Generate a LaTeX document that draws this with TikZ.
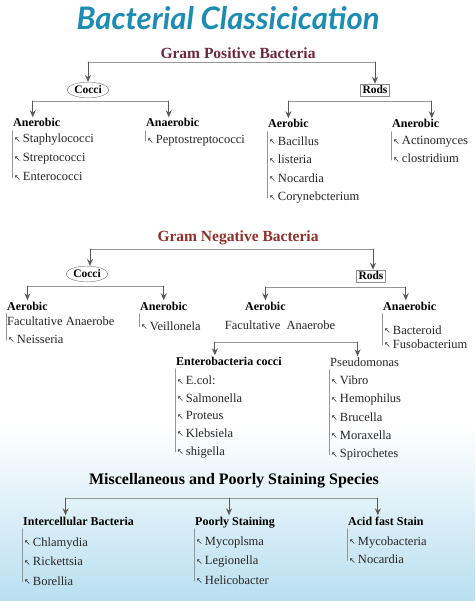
\documentclass[tikz,border=0pt]{standalone}
\usepackage{fontspec}
\setmainfont{Liberation Serif}
\newfontfamily\titlefont{Lato}
\newfontfamily\symfont{DejaVu Sans}
\usetikzlibrary{arrows.meta,calc,positioning,shapes.geometric}
\definecolor{titleteal}{RGB}{30,140,178}
\definecolor{posmaroon}{RGB}{110,40,65}
\definecolor{negmaroon}{RGB}{140,50,45}
\definecolor{skyblue}{RGB}{185,223,240}
\definecolor{linegray}{RGB}{150,150,150}
\newcommand{\bact}[1]{{\symfont\fontsize{8}{8}\selectfont\raisebox{0.5pt}{↖}}\,#1}

\begin{document}
\begin{tikzpicture}[x=1pt,y=-1pt,line cap=round,line join=round,
 heading/.style={font=\fontsize{15.5}{15.5}\selectfont\bfseries,inner sep=1pt},
 group/.style={font=\fontsize{12}{12}\selectfont\bfseries,anchor=west,
  inner sep=1pt,text height=8.5pt,text depth=2.5pt},
 item/.style={font=\fontsize{12.5}{12.5}\selectfont,text=black!85,
  anchor=west,inner sep=1pt,text height=8.5pt,text depth=2.5pt},
 bar/.style={draw=linegray,line width=0.9pt},
 rail/.style={draw=linegray,line width=0.8pt},
 drop/.style={draw=black!65,line width=1pt,
  -{Stealth[open,length=7pt,width=6pt]}},
 cocci/.style={ellipse,draw=black!55,inner xsep=1pt,inner ysep=1.5pt,
  font=\fontsize{11.5}{11.5}\selectfont\bfseries},
 rods/.style={rectangle,draw=black!45,inner sep=2pt,
  font=\fontsize{11.5}{11.5}\selectfont\bfseries}]
 \useasboundingbox (0,0) rectangle (475,601);
 \fill[white] (0,0) rectangle (475,601);
 \shade[top color=white,bottom color=skyblue] (0,425) rectangle (475,601);

 \node[font=\titlefont\fontsize{31}{31}\selectfont\bfseries\itshape,
  text=titleteal] (title) at (228,18) {Bacterial Classicication};

 % gram positive
 \node[heading,text=posmaroon] (gp) at (238,53) {Gram Positive Bacteria};
 \coordinate (gpbar) at (0,62);
 \node[cocci] (gpcocci) at (88,90) {Cocci};
 \node[rods] (gprods) at (375,90) {Rods};
 \draw[bar] (gpcocci.north |- gpbar) -- (gprods.north |- gpbar);
 \draw[drop] (gpcocci.north |- gpbar) -- (gpcocci.north);
 \draw[drop] (gprods.north |- gpbar) -- (gprods.north);

 \coordinate (gpcbar) at (0,101);
 \node[group] (gpc1) at (12,124) {Anerobic};
 \node[group] (gpc2) at (145,124) {Anaerobic};
 \draw[bar] ([xshift=-4pt]gpc1.north |- gpcbar) -- ([xshift=-4pt]gpc2.north |- gpcbar);
 \draw[drop] ([xshift=-4pt]gpc1.north |- gpcbar) -- ([xshift=-4pt]gpc1.north);
 \draw[drop] ([xshift=-4pt]gpc2.north |- gpcbar) -- ([xshift=-4pt]gpc2.north);
 \foreach \t [count=\i] in {Staphylococci,Streptococci,Enterococci}
  \node[item] (gpc1\i) at (13,121+19*\i) {\bact{\t}};
 \node[item] (gpc21) at (146,141) {\bact{Peptostreptococci}};
 \draw[rail] (gpc1.south west) -- (gpc1.south west |- gpc13.west);
 \draw[rail] (gpc2.south west) -- (gpc2.south west |- gpc21.west);

 \coordinate (gprbar) at (0,101);
 \node[group] (gpr1) at (267,125) {Aerobic};
 \node[group] (gpr2) at (391,125) {Anerobic};
 \draw[bar] (gpr1.north |- gprbar) -- ([xshift=16pt]gpr2.north |- gprbar);
 \draw[drop] (gpr1.north |- gprbar) -- (gpr1.north);
 \draw[drop] ([xshift=16pt]gpr2.north |- gprbar) -- ([xshift=16pt]gpr2.north);
 \foreach \t [count=\i] in {Bacillus,listeria,Nocardia,Corynebcterium}
  \node[item] (gpr1\i) at (268,124+18.5*\i) {\bact{\t}};
 \foreach \t [count=\i] in {Actinomyces,clostridium}
  \node[item] (gpr2\i) at (392,124+18*\i) {\bact{\t}};
 \draw[rail] (gpr1.south west) -- (gpr1.south west |- gpr14.west);
 \draw[rail] (gpr2.south west) -- (gpr2.south west |- gpr22.west);

 % gram negative
 \node[heading,text=negmaroon] (gn) at (238,238) {Gram Negative Bacteria};
 \coordinate (gnbar) at (0,249);
 \node[cocci] (gncocci) at (87,274) {Cocci};
 \node[rods] (gnrods) at (371,276) {Rods};
 \draw[bar] ([xshift=3pt]gncocci.north |- gnbar) -- ([xshift=2pt]gnrods.north |- gnbar);
 \draw[drop] ([xshift=3pt]gncocci.north |- gnbar) -- ([xshift=3pt]gncocci.north);
 \draw[drop] ([xshift=2pt]gnrods.north |- gnbar) -- ([xshift=2pt]gnrods.north);

 \coordinate (gncbar) at (0,286);
 \node[group] (gnc1) at (6,307) {Aerobic};
 \node[group] (gnc2) at (139,307) {Anerobic};
 \draw[bar] (gnc1.north |- gncbar) -- (gnc2.north |- gncbar);
 \draw[drop] (gnc1.north |- gncbar) -- (gnc1.north);
 \draw[drop] (gnc2.north |- gncbar) -- (gnc2.north);
 \node[item] (gnc1f) at (6,322) {Facultative Anaerobe};
 \node[item] (gnc11) at (7,340) {\bact{Neisseria}};
 \node[item] (gnc21) at (140,327) {\bact{Veillonela}};
 \draw[rail] (gnc1.south west) -- (gnc1.south west |- gnc11.west);
 \draw[rail] (gnc2.south west) -- (gnc2.south west |- gnc21.west);

 \coordinate (gnrbar) at (0,287);
 \node[group] (gnr1) at (244,307) {Aerobic};
 \node[group] (gnr2) at (382,307) {Anaerobic};
 \draw[bar] (gnr1.north |- gnrbar) -- ([xshift=-4pt]gnr2.north |- gnrbar);
 \draw[drop] (gnr1.north |- gnrbar) -- (gnr1.north);
 \draw[drop] ([xshift=-4pt]gnr2.north |- gnrbar) -- ([xshift=-4pt]gnr2.north);
 \node[item,anchor=center] (gnr1f) at (280,326) {Facultative\ \ Anaerobe};
 \foreach \t [count=\i] in {Bacteroid,Fusobacterium}
  \node[item] (gnr2\i) at (383,317+14*\i) {\bact{\t}};
 \draw[rail] (gnr2.south west) -- (gnr2.south west |- gnr22.west);

 \coordinate (gnfbar) at (0,342);
 \node[group] (gne) at (175,362) {Enterobacteria cocci};
 \node[item] (gnp) at (329,363) {Pseudomonas};
 \draw[bar] ([xshift=-14pt]gne.north |- gnfbar) -- ([xshift=-7pt]gnp.north |- gnfbar);
 \draw[drop] ([xshift=-14pt]gne.north |- gnfbar) -- ([xshift=-14pt]gne.north);
 \draw[drop] ([xshift=-7pt]gnp.north |- gnfbar) -- ([xshift=-7pt]gnp.north);
 \foreach \t [count=\i] in {E.col:,Salmonella,Proteus,Klebsiela,shigella}
  \node[item] (gne\i) at (176,364+17.6*\i) {\bact{\t}};
 \foreach \t [count=\i] in {Vibro,Hemophilus,Brucella,Moraxella,Spirochetes}
  \node[item] (gnp\i) at (330,363.5+18.2*\i) {\bact{\t}};
 \draw[rail] (gne.south west) -- (gne.south west |- gne5.west);
 \draw[rail] (gnp.south west) -- (gnp.south west |- gnp5.west);

 % miscellaneous
 \node[heading,font=\fontsize{16}{16}\selectfont\bfseries] (ms) at (234,481)
  {Miscellaneous and Poorly Staining Species};
 \coordinate (msbar) at (0,498);
 \node[group] (ms1) at (22,522) {Intercellular Bacteria};
 \node[group] (ms2) at (194,522) {Poorly Staining};
 \node[group] (ms3) at (347,522) {Acid fast Stain};
 \draw[bar] ([xshift=-13pt]ms1.north |- msbar) -- ([xshift=-8pt]ms3.north |- msbar);
 \draw[drop] ([xshift=-13pt]ms1.north |- msbar) -- ([xshift=-13pt]ms1.north);
 \draw[drop] ([xshift=-6pt]ms2.north |- msbar) -- ([xshift=-6pt]ms2.north);
 \draw[drop] ([xshift=-8pt]ms3.north |- msbar) -- ([xshift=-8pt]ms3.north);
 \foreach \t [count=\i] in {Chlamydia,Rickettsia,Borellia}
  \node[item] (ms1\i) at (23,523.5+19.5*\i) {\bact{\t}};
 \foreach \t [count=\i] in {Mycoplsma,Legionella,Helicobacter}
  \node[item] (ms2\i) at (195,522.5+19.5*\i) {\bact{\t}};
 \foreach \t [count=\i] in {Mycobacteria,Nocardia}
  \node[item] (ms3\i) at (348,523.5+18.5*\i) {\bact{\t}};
 \draw[rail] (ms1.south west) -- (ms1.south west |- ms13.west);
 \draw[rail] (ms2.south west) -- (ms2.south west |- ms23.west);
 \draw[rail] (ms3.south west) -- (ms3.south west |- ms32.west);
\end{tikzpicture}
\end{document}
